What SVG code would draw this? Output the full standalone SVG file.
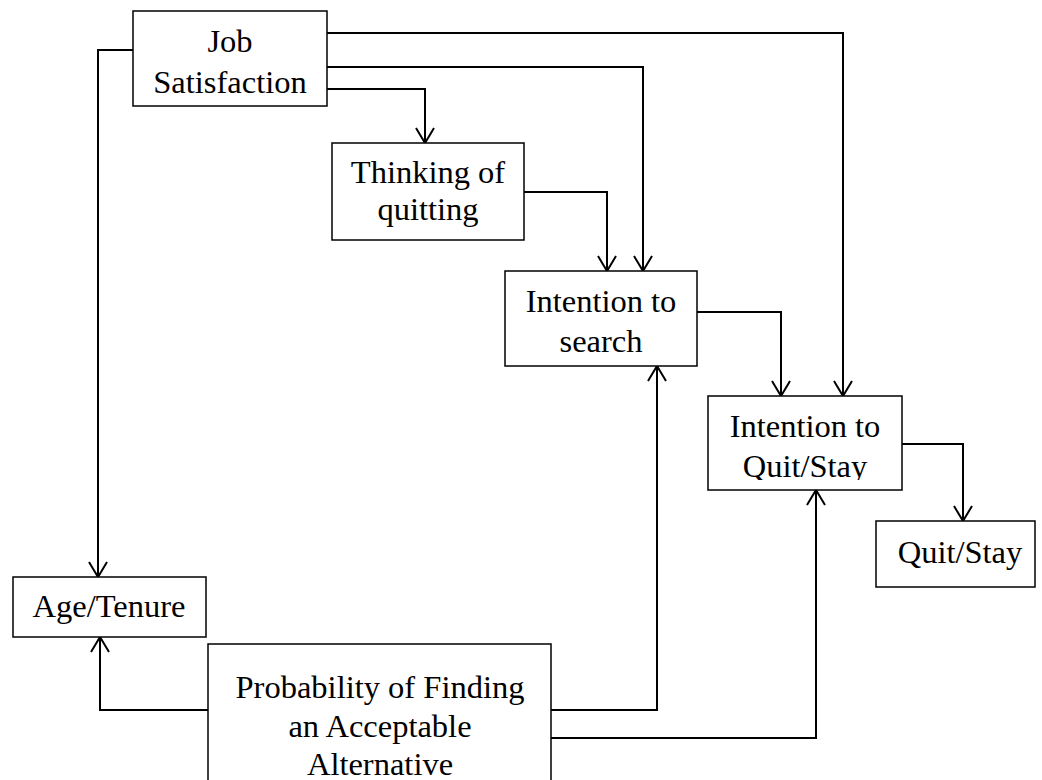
<svg xmlns="http://www.w3.org/2000/svg" width="1042" height="780" viewBox="0 0 1042 780">
<style>
.box{fill:#fff;stroke:#000;stroke-width:1.5}
.lbl{font-family:"Liberation Serif","Times New Roman",serif;font-size:32.5px;fill:#000;text-anchor:middle}
.con{fill:none;stroke:#000;stroke-width:2}
</style>
<defs>
<marker id="arr" markerUnits="userSpaceOnUse" viewBox="-17 -11 19 22" markerWidth="19" markerHeight="22" refX="0" refY="0" orient="auto" overflow="visible">
<path d="M-15,-9 L0,0 L-15,9" fill="none" stroke="#000" stroke-width="2"/>
</marker>
<clipPath id="clipTQ"><rect x="332" y="143" width="192" height="85"/></clipPath>
<clipPath id="clipIQS"><rect x="708" y="396" width="194" height="84"/></clipPath>
</defs>
<rect width="1042" height="780" fill="#fff"/>
<g id="connectors">
<path class="con" d="M133,50 H98 V577" marker-end="url(#arr)"/>
<path class="con" d="M327,33 H843 V396" marker-end="url(#arr)"/>
<path class="con" d="M327,67 H643 V271" marker-end="url(#arr)"/>
<path class="con" d="M327,89 H425 V143" marker-end="url(#arr)"/>
<path class="con" d="M524,192 H607 V271" marker-end="url(#arr)"/>
<path class="con" d="M697,312 H781 V396" marker-end="url(#arr)"/>
<path class="con" d="M902,444 H963 V521" marker-end="url(#arr)"/>
<path class="con" d="M208,710 H100 V637" marker-end="url(#arr)"/>
<path class="con" d="M551,710 H657 V366" marker-end="url(#arr)"/>
<path class="con" d="M551,738 H816 V490" marker-end="url(#arr)"/>
</g>
<g id="job-satisfaction">
<rect class="box" x="133" y="11" width="194" height="95"/>
<text class="lbl" x="230" y="52">Job</text>
<text class="lbl" x="230" y="93">Satisfaction</text>
</g>
<g id="thinking-of-quitting">
<rect class="box" x="332" y="143" width="192" height="97"/>
<g clip-path="url(#clipTQ)">
<text class="lbl" x="428" y="183">Thinking of</text>
<text class="lbl" x="428" y="220">quitting</text>
</g>
</g>
<g id="intention-to-search">
<rect class="box" x="505" y="271" width="192" height="95"/>
<text class="lbl" x="601" y="312">Intention to</text>
<text class="lbl" x="601" y="352">search</text>
</g>
<g id="intention-to-quit-stay">
<rect class="box" x="708" y="396" width="194" height="94"/>
<g clip-path="url(#clipIQS)">
<text class="lbl" x="805" y="437">Intention to</text>
<text class="lbl" x="805" y="477">Quit/Stay</text>
</g>
</g>
<g id="quit-stay">
<rect class="box" x="876" y="521" width="159" height="66"/>
<text class="lbl" x="960" y="563">Quit/Stay</text>
</g>
<g id="age-tenure">
<rect class="box" x="13" y="577" width="193" height="60"/>
<text class="lbl" x="109" y="617">Age/Tenure</text>
</g>
<g id="probability">
<rect class="box" x="208" y="644" width="343" height="160"/>
<text class="lbl" x="380" y="698">Probability of Finding</text>
<text class="lbl" x="380" y="737">an Acceptable</text>
<text class="lbl" x="380" y="775">Alternative</text>
</g>
</svg>
